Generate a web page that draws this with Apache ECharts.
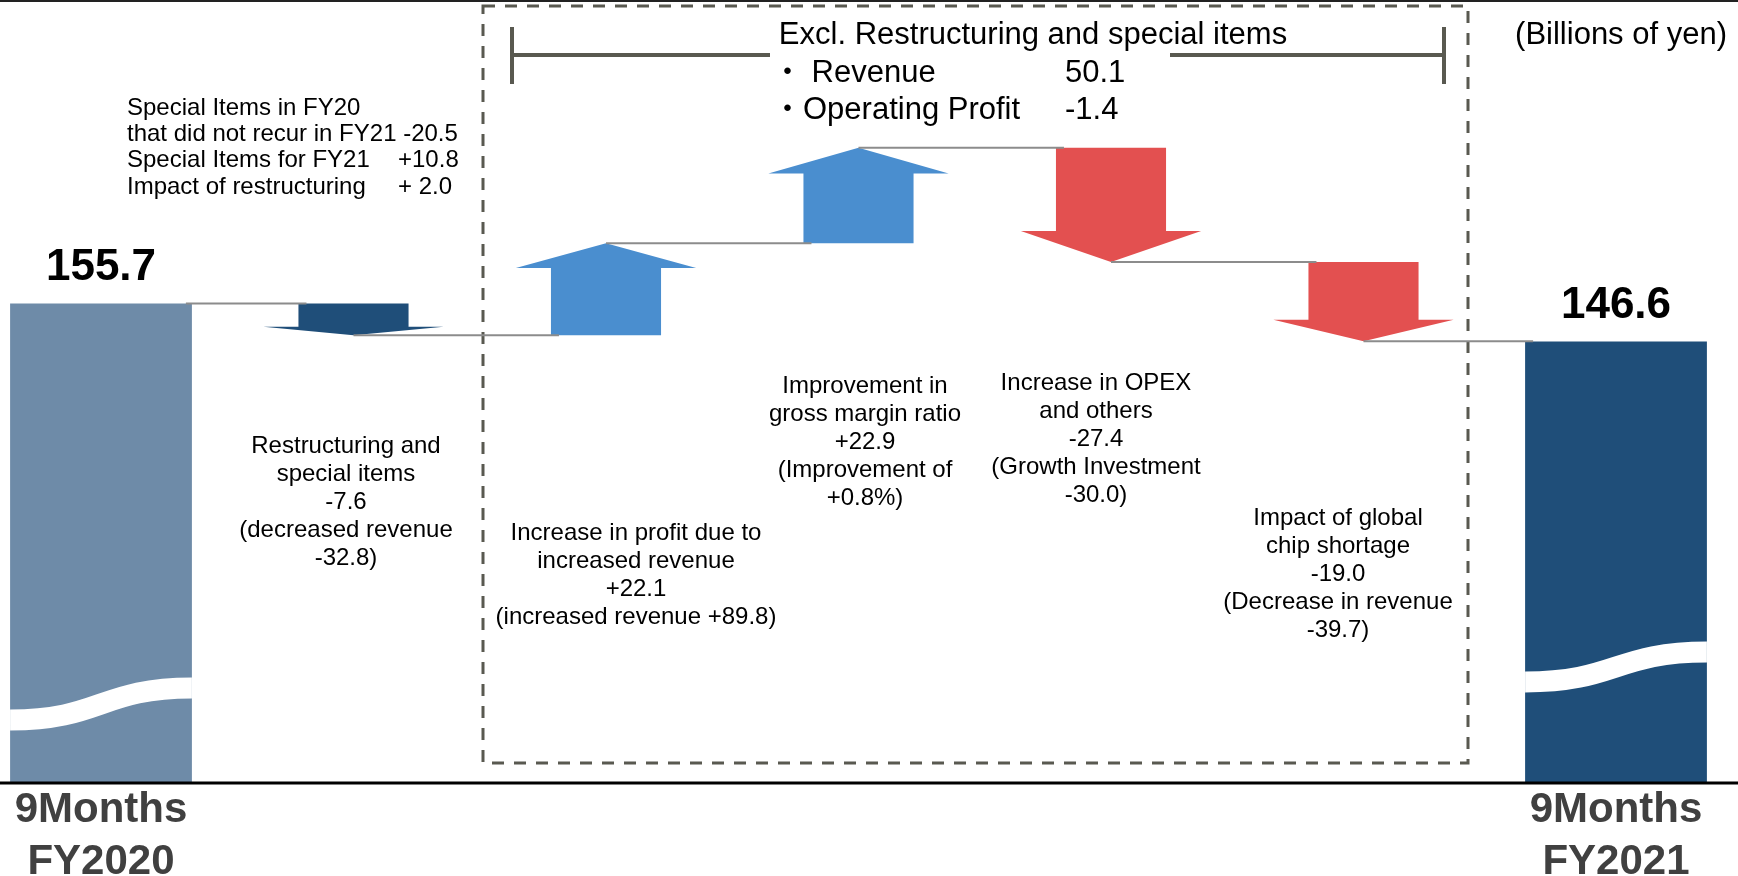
<!DOCTYPE html>
<html>
<head>
<meta charset="utf-8">
<title>9 months operating profit bridge</title>
<script src="https://cdn.jsdelivr.net/npm/echarts@6/dist/echarts.min.js"></script>
<style>
  html, body { margin: 0; padding: 0; background: #fff; }
  #main { width: 1738px; height: 876px; }
</style>
</head>
<body>
<div id="main"></div>
<script>
// billions of yen
var categories = ['9Months\nFY2020', 'Restructuring and special items', 'Increase in profit due to increased revenue',
  'Improvement in gross margin ratio', 'Increase in OPEX and others', 'Impact of global chip shortage', '9Months\nFY2021'];
var startTotal = 155.7;
var endTotal = 146.6;
var deltas = [-7.6, 22.1, 22.9, -27.4, -19.0];
var stepNames = ['Restructuring and\nspecial items', 'Increase in profit due to\nincreased revenue',
  'Improvement in\ngross margin ratio', 'Increase in OPEX\nand others', 'Impact of global\nchip shortage'];
var stepNotes = ['(decreased revenue\n-32.8)', '(increased revenue +89.8)', '(Improvement of\n+0.8%)',
  '(Growth Investment\n-30.0)', '(Decrease in revenue\n-39.7)'];
var specialNames = ['Special Items in FY20\nthat did not recur in FY21', 'Special Items for FY21', 'Impact of restructuring'];
var specialValues = ['-20.5', '+10.8', '+ 2.0'];
var exclNames = ['・ Revenue', '・Operating Profit'];
var exclValues = ['50.1', '-1.4'];

var FONT = '"Liberation Sans", Arial, "Noto Sans CJK JP", sans-serif';
var last = categories.length - 1;

// waterfall levels
var level = startTotal;
var levels = [startTotal];
var stepData = deltas.map(function (d, k) {
  var from = level;
  level = Math.round((level + d) * 10) / 10;
  levels.push(level);
  return [k + 1, from, level];
});
var totalData = [[0, 0, startTotal], [last, 0, endTotal]];
var linkData = levels.map(function (v, k) { return [k, v]; });

function fmt(v) { return (v > 0 ? '+' : '') + v.toFixed(1); }

function renderTotal(params, api) {
  var idx = api.value(0);
  var top = api.coord([idx, api.value(2)]);
  var cs = params.coordSys;
  var bottom = cs.y + cs.height;
  var w = api.size([1, 0])[0] * 0.72;
  var x0 = top[0] - w / 2;
  var lift = idx === 0 ? [62, 94] : [100, 130];
  var yL = bottom - lift[0], yR = bottom - lift[1];
  return {
    type: 'group',
    children: [
      { type: 'rect', shape: { x: x0, y: top[1], width: w, height: bottom - top[1] },
        style: { fill: idx === 0 ? '#6E8BA8' : '#1F4E79' } },
      { type: 'bezierCurve',
        shape: { x1: x0, y1: yL, cpx1: x0 + w * 0.5, cpy1: yL, cpx2: x0 + w * 0.5, cpy2: yR, x2: x0 + w, y2: yR },
        style: { stroke: '#fff', lineWidth: 21, fill: null } },
      { type: 'text',
        style: { text: api.value(2).toFixed(1), x: top[0], y: top[1] - 36, align: 'center', verticalAlign: 'middle',
          font: 'bold 44px ' + FONT, fill: '#000' } }
    ]
  };
}

function renderStep(params, api) {
  var idx = api.value(0), from = api.value(1), to = api.value(2);
  var base = api.coord([idx, from]);
  var tip = api.coord([idx, to]);
  var step = api.size([1, 0])[0];
  var rw = step * 0.218, hw = step * 0.357;
  var cx = base[0], by = base[1], ty = tip[1];
  var neck = ty + (by - ty) * 0.27;
  var color = idx === 1 ? '#1F4E79' : (to > from ? '#4A8ECF' : '#E35050');
  return {
    type: 'polygon',
    shape: { points: [[cx - rw, by], [cx - rw, neck], [cx - hw, neck], [cx, ty], [cx + hw, neck], [cx + rw, neck], [cx + rw, by]] },
    style: { fill: color }
  };
}

function renderLink(params, api) {
  var idx = api.value(0);
  var p = api.coord([idx, api.value(1)]);
  var step = api.size([1, 0])[0];
  var x0 = idx === 0 ? p[0] + step * 0.36 - 6 : p[0];
  var nextHalf = idx + 1 === last ? step * 0.36 : step * 0.218;
  var x1 = p[0] + step - nextHalf + 8;
  return {
    type: 'line',
    shape: { x1: x0, y1: p[1], x2: x1, y2: p[1] },
    style: { stroke: '#8c8c8c', lineWidth: 2 }
  };
}

// annotation placement (pixels)
var labelPos = [[346, 432], [636, 519], [865, 372], [1096, 369], [1338, 504]];

var graphics = [
  { type: 'line', shape: { x1: 0, y1: 1, x2: 1738, y2: 1 }, style: { stroke: '#222', lineWidth: 2 } },
  { type: 'line', shape: { x1: 0, y1: 783, x2: 1738, y2: 783 }, style: { stroke: '#000', lineWidth: 3 }, z: 10 },
  { type: 'rect', shape: { x: 483, y: 6, width: 985, height: 757 },
    style: { fill: null, stroke: '#595950', lineWidth: 3, lineDash: [12, 10] } },
  { type: 'polyline', shape: { points: [[512, 27], [512, 84]] }, style: { stroke: '#595950', lineWidth: 4 } },
  { type: 'polyline', shape: { points: [[1444, 27], [1444, 84]] }, style: { stroke: '#595950', lineWidth: 4 } },
  { type: 'line', shape: { x1: 512, y1: 55, x2: 770, y2: 55 }, style: { stroke: '#595950', lineWidth: 4 } },
  { type: 'line', shape: { x1: 1170, y1: 55, x2: 1444, y2: 55 }, style: { stroke: '#595950', lineWidth: 4 } },
  { type: 'text', style: { text: 'Excl. Restructuring and special items', x: 1033, y: 35, align: 'center',
      verticalAlign: 'middle', font: '31px ' + FONT, fill: '#000' } },
  { type: 'text', style: { text: exclNames.join('\n'), x: 772, y: 55, align: 'left', verticalAlign: 'top',
      lineHeight: 37, font: '31px ' + FONT, fill: '#000' } },
  { type: 'text', style: { text: exclValues.join('\n'), x: 1065, y: 55, align: 'left', verticalAlign: 'top',
      lineHeight: 37, font: '31px ' + FONT, fill: '#000' } },
  { type: 'text', style: { text: '(Billions of yen)', x: 1727, y: 35, align: 'right', verticalAlign: 'middle',
      font: '31px ' + FONT, fill: '#000' } },
  { type: 'text', style: { text: specialNames[0] + ' ' + specialValues[0] + '\n' + specialNames[1] + '\n' + specialNames[2],
      x: 127, y: 95, align: 'left', verticalAlign: 'top', lineHeight: 26.3, font: '24px ' + FONT, fill: '#000' } },
  { type: 'text', style: { text: specialValues[1] + '\n' + specialValues[2],
      x: 398, y: 95 + 2 * 26.3, align: 'left', verticalAlign: 'top', lineHeight: 26.3, font: '24px ' + FONT, fill: '#000' } }
];

stepNames.forEach(function (name, k) {
  graphics.push({
    type: 'text',
    style: { text: name + '\n' + fmt(deltas[k]) + '\n' + stepNotes[k], x: labelPos[k][0], y: labelPos[k][1],
      align: 'center', verticalAlign: 'top', lineHeight: 28, font: '24px ' + FONT, fill: '#000' }
  });
});

var chart = echarts.init(document.getElementById('main'));
chart.setOption({
  animation: false,
  textStyle: { fontFamily: FONT },
  grid: { left: 101, right: 122, top: 0, bottom: 94, outerBoundsMode: 'none' },
  xAxis: {
    type: 'category',
    data: categories,
    boundaryGap: false,
    axisLine: { show: false },
    axisTick: { show: false },
    splitLine: { show: false },
    axisLabel: {
      interval: 0,
      margin: 2,
      fontSize: 42,
      fontWeight: 'bold',
      color: '#404040',
      lineHeight: 52,
      formatter: function (v, i) { return i === 0 || i === last ? v : ''; }
    }
  },
  yAxis: { type: 'value', min: 41, max: 228.5, show: false },
  graphic: graphics,
  series: [
    { type: 'custom', name: 'totals', renderItem: renderTotal, data: totalData, encode: { x: 0, y: 2 }, z: 2 },
    { type: 'custom', name: 'steps', renderItem: renderStep, data: stepData, encode: { x: 0, y: [1, 2] }, z: 2 },
    { type: 'custom', name: 'links', renderItem: renderLink, data: linkData, encode: { x: 0, y: 1 }, z: 3 }
  ]
});
</script>
</body>
</html>
